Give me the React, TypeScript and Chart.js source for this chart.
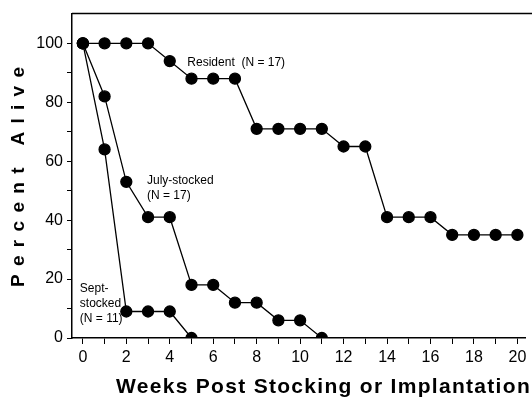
import React, { useEffect, useRef } from "react";
import { Chart, registerables } from "chart.js";

Chart.register(...registerables);

const weeks = [0, 1, 2, 3, 4, 5, 6, 7, 8, 9, 10, 11, 12, 13, 14, 15, 16, 17, 18, 19, 20];
const resident = [100, 100, 100, 100, 94, 88, 88, 88, 71, 71, 71, 71, 65, 65, 41, 41, 41, 35, 35, 35, 35];
const julyStocked = [100, 82, 53, 41, 41, 18, 18, 12, 12, 6, 6, 0];
const septStocked = [100, 64, 9, 9, 9, 0];
const yTickValues = [0, 10, 20, 30, 40, 50, 60, 70, 80, 90, 100];
const xTickValues = weeks;

const xTitle = "Weeks Post Stocking or Implantation";
const yTitle = "Percent Alive";

const annotations = [
  { lines: ["Resident  (N = 17)"], x: 4.81, y: 93.6 },
  { lines: ["July-stocked", "(N = 17)"], x: 2.95, y: 53.4 },
  { lines: ["Sept-", "stocked", "(N = 11)"], x: -0.14, y: 16.9 },
];

const FONT = "'Liberation Sans', Arial, Helvetica, sans-serif";

const toPoints = (vals: number[]) => vals.map((v, i) => ({ x: weeks[i], y: v }));

const decorPlugin = {
  id: "decor",
  afterDraw(chart: any) {
    const { ctx, chartArea, scales } = chart;
    ctx.save();
    ctx.strokeStyle = "#000";
    ctx.lineWidth = 1.5;
    ctx.beginPath();
    ctx.moveTo(chartArea.left, chartArea.top);
    ctx.lineTo(chart.width, chartArea.top);
    ctx.stroke();

    ctx.fillStyle = "#000";
    ctx.font = `12px ${FONT}`;
    ctx.textAlign = "left";
    ctx.textBaseline = "middle";
    annotations.forEach((a) => {
      const px = scales.x.getPixelForValue(a.x);
      const py = scales.y.getPixelForValue(a.y);
      a.lines.forEach((l, i) => ctx.fillText(l, px, py + i * 15));
    });

    ctx.font = `bold 21px ${FONT}`;
    (ctx as any).letterSpacing = "1.3px";
    ctx.textAlign = "left";
    ctx.textBaseline = "alphabetic";
    ctx.fillText(xTitle, 116, 393);

    ctx.font = `bold 19px ${FONT}`;
    (ctx as any).letterSpacing = "8.3px";
    const w = ctx.measureText(yTitle).width - 8.3;
    ctx.translate(24, 177);
    ctx.rotate(-Math.PI / 2);
    ctx.fillText(yTitle, -w / 2, 0);
    ctx.restore();
  },
};

export default function App() {
  const ref = useRef<HTMLCanvasElement | null>(null);
  useEffect(() => {
    document.body.style.margin = "0";
    const common = {
      borderColor: "#000",
      backgroundColor: "#000",
      pointBackgroundColor: "#000",
      pointBorderColor: "#000",
      pointRadius: 5.5,
      borderWidth: 1.3,
      tension: 0,
      clip: 0,
      fill: false,
    };
    const chart = new Chart(ref.current!, {
      type: "line",
      data: {
        datasets: [
          { label: "Resident", data: toPoints(resident), ...common },
          { label: "July-stocked", data: toPoints(julyStocked), ...common },
          { label: "Sept-stocked", data: toPoints(septStocked), ...common },
        ],
      },
      plugins: [decorPlugin],
      options: {
        responsive: false,
        animation: false,
        events: [],
        layout: { padding: { top: 12, left: 0, right: 0, bottom: 0 } },
        plugins: { legend: { display: false }, tooltip: { enabled: false }, title: { display: false } },
        scales: {
          x: {
            type: "linear",
            min: -0.5,
            max: 20.36,
            afterBuildTicks: (s: any) => {
              s.ticks = xTickValues.map((v) => ({ value: v }));
            },
            afterFit: (s: any) => {
              s.height = 60;
            },
            ticks: {
              autoSkip: false,
              maxRotation: 0,
              padding: 4,
              color: "#000",
              font: { family: FONT, size: 16 },
              callback: (v: any) => (Number(v) % 2 === 0 ? String(v) : ""),
            },
            grid: { drawOnChartArea: false, drawTicks: true, tickLength: 6, tickColor: "#000", tickWidth: 1 },
            border: { display: true, color: "#000", width: 1.5 },
          },
          y: {
            type: "linear",
            min: 0,
            max: 110.1,
            afterBuildTicks: (s: any) => {
              s.ticks = yTickValues.map((v) => ({ value: v }));
            },
            afterFit: (s: any) => {
              s.width = 72;
            },
            ticks: {
              autoSkip: false,
              padding: 4,
              color: "#000",
              font: { family: FONT, size: 16 },
              callback: (v: any) => (Number(v) % 20 === 0 ? String(v) : ""),
            },
            grid: { drawOnChartArea: false, drawTicks: true, tickLength: 5, tickColor: "#000", tickWidth: 1 },
            border: { display: true, color: "#000", width: 1.5 },
          },
        },
      } as any,
    });
    return () => chart.destroy();
  }, []);
  return (
    <div style={{ width: 532, height: 398 }}>
      <canvas ref={ref} width={532} height={398} style={{ display: "block" }} />
    </div>
  );
}
